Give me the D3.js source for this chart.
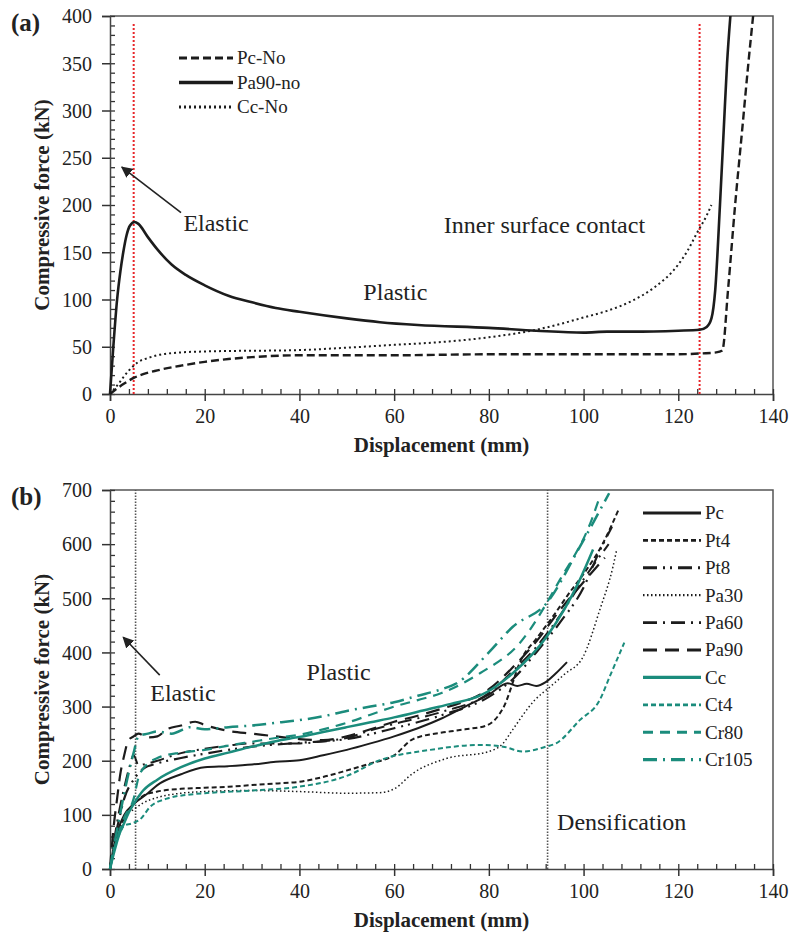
<!DOCTYPE html>
<html>
<head>
<meta charset="utf-8">
<style>
  body { margin: 0; background: #fff; }
  svg text { font-family: "Liberation Serif", "Times New Roman", serif; fill: #222; }
  .tick text { font-size: 20px; }
  .title { font-size: 21px; font-weight: bold; }
  .panel { font-size: 25px; font-weight: bold; }
  .note { font-size: 24px; }
  .legend text { font-size: 19px; }
</style>
</head>
<body>
<svg width="792" height="932"></svg>
<script src="https://d3js.org/d3.v7.min.js"></script>
<script>
// ---- panel (a) data: displacement (mm), force (kN)
var pcNo = [[0,0],[1,4],[3,11],[5,17],[7,21],[10,25],[15,30],[20,34],[25,37],[30,39],[40,41],[60,41],[80,42],[100,42],[120,42],[125,43],[128,44],[129.3,46],[130.5,110],[132,200],[133.5,280],[134.8,350],[135.8,400]];
var pa90No = [[0,0],[0.7,50],[1.5,100],[2.2,130],[2.8,150],[3.5,168],[4.2,178],[5.2,182],[6,180],[8,166],[10,153],[13,137],[16,126],[20,115],[25,104],[30,97],[35,91],[40,87],[50,80],[57,76],[65,73],[80,70],[90,67],[100,65],[105,66],[110,66],[120,67],[124.5,68],[126,71],[127,80],[127.8,110],[128.8,200],[129.6,280],[130.3,350],[131,400]];
var ccNo = [[0,0],[1,6],[2,12],[3,19],[4,25],[5,30],[6,34],[8,38],[10,41],[15,44],[20,45],[40,46.5],[50,49],[60,52],[70,55],[80,60],[90,68],[95,74],[100,81],[105,88],[110,98],[115,113],[120,137],[122,152],[124,171],[126,189],[127,200]];
var seriesA = ["Pc-No", "Pa90-no", "Cc-No"];
var marksA = [5, 124.5];

// ---- panel (b) data
var pc = [[0,0],[1,50],[2,80],[3,100],[5,120],[8,140],[10,155],[15,175],[20,188],[25,190],[30,193],[35,198],[40,201],[45,210],[50,220],[55,232],[60,245],[65,260],[70,278],[75,300],[80,322],[84,343],[86,338],[88,342],[90,338],[92,345],[94,360],[96.5,382]];
var pt4 = [[0,0],[1,40],[2,70],[3,95],[5,120],[7,135],[10,143],[15,148],[20,150],[25,152],[30,155],[35,158],[40,161],[45,170],[50,182],[55,195],[60,210],[64,240],[71,253],[75,258],[79.5,265],[83,297],[87,390],[90,425],[93.5,466],[97,510],[100,545],[104,600],[107.3,662]];
var pt8 = [[0,0],[1,55],[2,95],[3,130],[5,165],[7,185],[10,195],[15,205],[20,213],[30,226],[40,233],[50,240],[60,260],[70,284],[80,318],[85,350],[90,400],[95,455],[100,520],[103,580],[106,632]];
var pa30 = [[0,0],[1,45],[2,75],[3,95],[5,110],[7,122],[10,132],[15,140],[20,143],[30,145],[40,143],[50,140],[57,141],[60,148],[64,177],[71,204],[80,217],[83,232],[85,257],[89.7,312],[93,337],[96,360],[99.9,392],[103.4,478],[106.2,558],[107,590]];
var pa60 = [[0,0],[1,60],[2,110],[3,150],[4,185],[5,210],[6,192],[8,195],[10,200],[15,214],[20,222],[25,228],[30,232],[40,232],[45,236],[50,242],[55,256],[60,268],[70,290],[80,325],[85,365],[90,410],[95,468],[100,535],[105.3,600]];
var pa90 = [[0,0],[0.7,72],[1.5,130],[2.1,171],[3,210],[3.9,238],[5,245],[6,250],[8,243],[10,245],[12,258],[15,265],[18,272],[20,266],[25,255],[30,250],[35,245],[40,240],[45,238],[50,245],[55,258],[60,272],[65,283],[70,296],[75,310],[80,332],[85,372],[90,420],[95,478],[100,530],[104.5,575]];
var cc = [[0,0],[1,35],[2,65],[3,85],[4,105],[5,120],[7,145],[10,165],[15,188],[20,204],[25,215],[30,226],[35,236],[40,244],[45,253],[50,262],[55,271],[60,280],[67.6,296],[72,305],[78.1,320],[85.1,362],[92.2,429],[99.2,534],[102,590]];
var ct4 = [[0,0],[1,40],[2,65],[3,80],[4.6,84],[6.4,92],[8.5,115],[12,130],[16.3,137],[20,140],[30,145],[40,152],[50,172],[57,201],[67.6,220],[78.1,229],[83,226],[87.2,217],[92.1,226],[94.2,232],[99.2,275],[103.4,312],[105.5,355],[108.6,418]];
var cr80 = [[0,0],[1,40],[2,70],[3,95],[5,130],[6,168],[8,195],[10,205],[15,215],[20,220],[25,228],[30,235],[35,242],[40,248],[45,258],[50,270],[55,285],[60,300],[65,312],[70,325],[78.2,362],[86.5,417],[95,534],[101.7,645],[103.5,690]];
var cr105 = [[0,0],[1,50],[2,95],[3,140],[4,180],[5,215],[6,245],[8,250],[10,254],[13,250],[17,262],[20,258],[25,262],[30,265],[35,270],[40,275],[45,282],[50,292],[55,300],[60,308],[65,320],[70,332],[73.2,343],[80,400],[85,447],[92.2,491],[99.2,595],[105.4,694]];
var seriesB = ["Pc", "Pt4", "Pt8", "Pa30", "Pa60", "Pa90", "Cc", "Ct4", "Cr80", "Cr105"];
var marksB = [5.4, 92.4];

var black = "#1c1c1c", teal = "#1b8c7c";

var svg = d3.select("svg");
var defs = svg.append("defs");
defs.append("marker").attr("id", "arrow")
    .attr("viewBox", "0 0 10 10").attr("refX", 9).attr("refY", 5)
    .attr("markerWidth", 7).attr("markerHeight", 7).attr("orient", "auto")
  .append("path").attr("d", "M0,0 L10,5 L0,10 z").attr("fill", "#222");

function drawPanel(o) {
    var x = d3.scaleLinear().domain([0, 140]).range([110, 773]);
    var y = d3.scaleLinear().domain([0, o.ymax]).range([o.bottom, o.top]);
    var g = svg.append("g");

    // box
    g.append("path")
        .attr("d", "M" + x(0) + "," + y(o.ymax) + "H" + x(140) + "V" + y(0))
        .attr("fill", "none").attr("stroke", "#555").attr("stroke-width", 1.5);

    // minor ticks (inside)
    g.append("g").attr("transform", "translate(0," + y(0) + ")")
        .call(d3.axisTop(x).tickValues(d3.range(0, 141, 4)).tickSize(5).tickFormat(""))
        .call(function (s) { s.select(".domain").remove(); s.selectAll("line").attr("stroke", "#333").attr("stroke-width", 1.3); });
    g.append("g").attr("transform", "translate(" + x(0) + ",0)")
        .call(d3.axisRight(y).tickValues(d3.range(0, o.ymax + 1, o.minor)).tickSize(5).tickFormat(""))
        .call(function (s) { s.select(".domain").remove(); s.selectAll("line").attr("stroke", "#333").attr("stroke-width", 1.3); });

    // major axes
    g.append("g").attr("transform", "translate(0," + y(0) + ")")
        .call(d3.axisBottom(x).tickValues(d3.range(0, 141, 20)).tickSize(7).tickPadding(8))
        .call(function (s) {
            s.select(".domain").attr("stroke", "#444").attr("stroke-width", 1.5);
            s.selectAll("line").attr("stroke", "#333").attr("stroke-width", 1.5);
            s.selectAll("text").attr("font-family", null).attr("font-size", null).attr("fill", "#333");
        });
    g.append("g").attr("transform", "translate(" + x(0) + ",0)")
        .call(d3.axisLeft(y).tickValues(d3.range(0, o.ymax + 1, o.major)).tickSize(8).tickPadding(10))
        .call(function (s) {
            s.select(".domain").attr("stroke", "#444").attr("stroke-width", 1.5);
            s.selectAll("line").attr("stroke", "#333").attr("stroke-width", 1.5);
            s.selectAll("text").attr("font-family", null).attr("font-size", null).attr("fill", "#333").attr("dy", "0.34em");
        });

    // phase markers
    g.selectAll(".mark").data(o.marks).enter().append("line")
        .attr("x1", function (d) { return x(d); }).attr("x2", function (d) { return x(d); })
        .attr("y1", y(0)).attr("y2", y(o.markTop))
        .attr("stroke", o.markColor).attr("stroke-width", o.markWidth).attr("stroke-dasharray", o.markDash);

    var line = d3.line().x(function (d) { return x(d[0]); }).y(function (d) { return y(d[1]); })
        .curve(d3.curveMonotoneX);

    o.series.forEach(function (s) {
        g.append("path").datum(s.data)
            .attr("d", line).attr("fill", "none")
            .attr("stroke", s.color).attr("stroke-width", s.width)
            .attr("stroke-dasharray", s.dash).attr("stroke-linecap", "butt")
            .attr("stroke-linejoin", "round");
    });

    // legend
    var lg = g.append("g").attr("class", "legend");
    o.series.forEach(function (s, i) {
        var ly = o.legY + i * o.legStep;
        lg.append("line").attr("x1", o.legX).attr("x2", o.legX + o.legLen)
            .attr("y1", ly).attr("y2", ly)
            .attr("stroke", s.color).attr("stroke-width", s.width + 0.8).attr("stroke-dasharray", s.dash);
        lg.append("text").attr("x", o.legX + o.legLen + 4).attr("y", ly).attr("dy", "0.34em").text(s.name);
    });

    // titles
    g.append("text").attr("class", "title").attr("text-anchor", "middle")
        .attr("x", (x(0) + x(140)) / 2).attr("y", o.bottom + 58).text("Displacement (mm)");
    g.append("text").attr("class", "title").attr("text-anchor", "middle")
        .attr("transform", "translate(49," + (o.top + o.bottom) / 2 + ") rotate(-90)")
        .text("Compressive force (kN)");
    g.append("text").attr("class", "panel")
        .attr("x", 11).attr("y", o.top + 15).text(o.label);

    // notes
    o.notes.forEach(function (n) {
        g.append("text").attr("class", "note").attr("x", x(n[0])).attr("y", y(n[1])).text(n[2]);
    });
    g.append("line")
        .attr("x1", x(o.arrow[0])).attr("y1", y(o.arrow[1]))
        .attr("x2", x(o.arrow[2])).attr("y2", y(o.arrow[3]))
        .attr("stroke", "#222").attr("stroke-width", 1.6).attr("marker-end", "url(#arrow)");
}

drawPanel({
    top: 16, bottom: 394, ymax: 400, major: 50, minor: 10, label: "(a)",
    marks: marksA, markTop: 392, markColor: "#e8262a", markWidth: 2, markDash: "2,2",
    series: [
        { name: seriesA[0], data: pcNo, color: black, width: 2.4, dash: "8,4" },
        { name: seriesA[1], data: pa90No, color: black, width: 2.6, dash: null },
        { name: seriesA[2], data: ccNo, color: black, width: 2, dash: "2,3" }
    ],
    legX: 179, legY: 58, legStep: 24.5, legLen: 54,
    notes: [[15.5, 172, "Elastic"], [53.5, 100, "Plastic"], [70.5, 170, "Inner surface contact"]],
    arrow: [15, 192, 2.5, 240]
});

drawPanel({
    top: 490, bottom: 869, ymax: 700, major: 100, minor: 20, label: "(b)",
    marks: marksB, markTop: 700, markColor: "#555", markWidth: 1.6, markDash: "1.5,1.5",
    series: [
        { name: seriesB[0], data: pc, color: black, width: 2, dash: null },
        { name: seriesB[1], data: pt4, color: black, width: 2, dash: "5,3" },
        { name: seriesB[2], data: pt8, color: black, width: 2.2, dash: "14,6,2,5,2,6" },
        { name: seriesB[3], data: pa30, color: black, width: 1.5, dash: "1.5,2.5" },
        { name: seriesB[4], data: pa60, color: black, width: 2, dash: "14,6,2,6" },
        { name: seriesB[5], data: pa90, color: black, width: 2.2, dash: "14,8" },
        { name: seriesB[6], data: cc, color: teal, width: 2.5, dash: null },
        { name: seriesB[7], data: ct4, color: teal, width: 2, dash: "5,3" },
        { name: seriesB[8], data: cr80, color: teal, width: 2.2, dash: "10,7" },
        { name: seriesB[9], data: cr105, color: teal, width: 2.5, dash: "14,6,2,6" }
    ],
    legX: 643, legY: 513, legStep: 27.4, legLen: 58,
    notes: [[8.5, 310, "Elastic"], [41.5, 350, "Plastic"], [94.4, 72, "Densification"]],
    arrow: [10.5, 358, 2.8, 428]
});
</script>
</body>
</html>
